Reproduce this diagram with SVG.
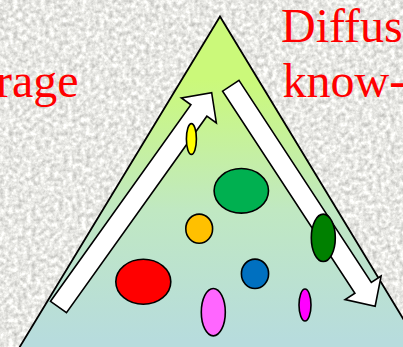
<svg xmlns="http://www.w3.org/2000/svg" width="403" height="347" viewBox="0 0 403 347">
<defs>
<style>
.lbl{font-family:"Liberation Serif","Times New Roman",serif;font-size:48px;fill:#FF0000}
.ol{stroke:#000;stroke-width:1.6}
.arrow{fill:#FFF;stroke:#000;stroke-width:1.6;stroke-linejoin:miter}
</style>
<filter id="tex" x="0" y="0" width="100%" height="100%" color-interpolation-filters="sRGB">
<feTurbulence type="fractalNoise" baseFrequency="0.22" numOctaves="3" seed="4"/>
<feColorMatrix type="matrix" values="0.42 0 0 0 0.7  0.42 0 0 0 0.7  0.42 0 0 0 0.685  0 0 0 0 1"/>
</filter>
<linearGradient id="tri" gradientUnits="userSpaceOnUse" x1="0" y1="80" x2="0" y2="340">
<stop offset="0" stop-color="#CBF97A"/>
<stop offset="0.5" stop-color="#C0E8C2"/>
<stop offset="1" stop-color="#B7DCDD"/>
</linearGradient>
<path id="arr" d="M0,-9.8 H241.5 V-21.5 L263.5,0 L241.5,21.5 V9.8 H0 Z"/>
</defs>
<rect x="0" y="0" width="403" height="347" fill="#E7E7E3"/>
<rect x="0" y="0" width="403" height="347" filter="url(#tex)"/>
<g id="labels">
<text class="lbl" x="78.5" y="97" text-anchor="end">rage</text>
<text class="lbl" x="281" y="42">Diffus</text>
<text class="lbl" x="282.5" y="97">know-</text>
</g>
<g id="pyramid">
<polygon points="220,16.5 10,363 430,363" fill="url(#tri)" stroke="#000" stroke-width="1.8"/>
</g>
<g id="connectors">
<use href="#arr" class="arrow" transform="translate(58.5,307) rotate(-54.46)"/>
<use href="#arr" class="arrow" transform="translate(230.8,85.8) rotate(56.78)"/>
</g>
<g id="node-yellow"><ellipse class="ol" cx="191.4" cy="139" rx="5" ry="15.4" fill="#FFFF00"/></g>
<g id="node-green"><ellipse class="ol" cx="241.3" cy="190.8" rx="27.2" ry="22.3" fill="#00B050"/></g>
<g id="node-orange"><ellipse class="ol" cx="199.2" cy="228.7" rx="13.4" ry="14.6" fill="#FFC000"/></g>
<g id="node-darkgreen"><ellipse class="ol" cx="323.3" cy="237.8" rx="12" ry="23.7" fill="#008000"/></g>
<g id="node-red"><ellipse class="ol" cx="143.3" cy="281.7" rx="27.5" ry="22.5" fill="#FF0000"/></g>
<g id="node-blue"><ellipse class="ol" cx="255" cy="273.8" rx="13.6" ry="14.7" fill="#0070C0"/></g>
<g id="node-pink"><ellipse class="ol" cx="213.3" cy="312.2" rx="12" ry="23.7" fill="#FF66FF"/></g>
<g id="node-magenta"><ellipse class="ol" cx="305" cy="305" rx="6" ry="16" fill="#FF00FF"/></g>
</svg>
